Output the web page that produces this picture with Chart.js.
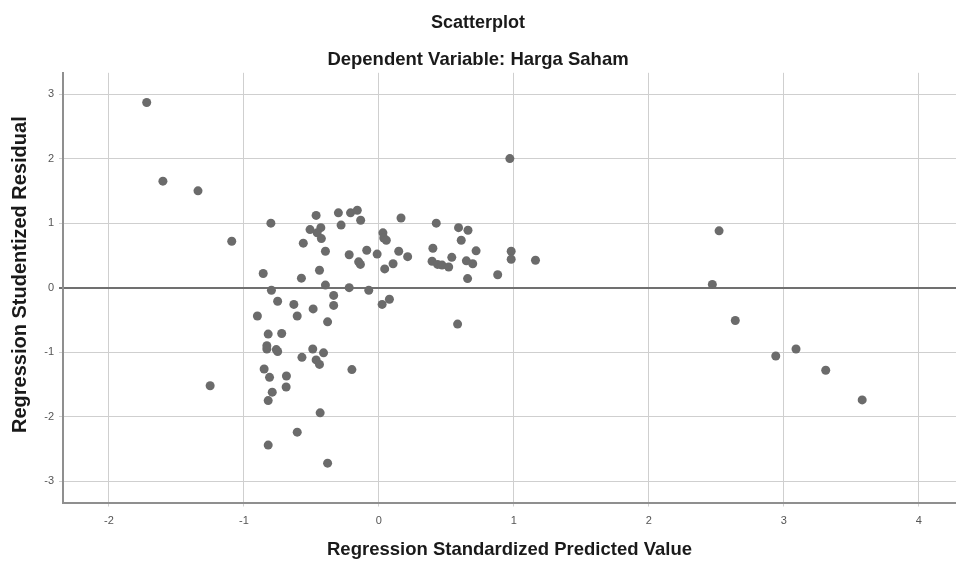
<!DOCTYPE html>
<html>
<head>
<meta charset="utf-8">
<script src="https://cdn.jsdelivr.net/npm/chart.js@4/dist/chart.umd.min.js"></script>
<style>
  html, body { margin: 0; padding: 0; background: #ffffff; }
  #grafico { display: block; }
</style>
</head>
<body>
<canvas id="grafico" width="956" height="563"></canvas>
<script>
// valores (x = predicted, y = residual)
const predito = [
  -1.72, -1.60, -1.34, -1.09, -1.25, -0.90, -0.80, -0.857, -0.465, -0.30,
  -0.21, -0.16, -0.28, -0.135, -0.51, -0.43, -0.457, -0.426, -0.56, -0.396,
  -0.22, -0.09, -0.15, -0.44, -0.574, -0.796, -0.396, -0.22, -0.075, -0.75,
  -0.63, -0.335, -0.487, -0.335, -0.605, -0.38, -0.82, -0.72, -0.83, -0.83,
  -0.76, -0.75, -0.57, -0.49, -0.41, -0.465, -0.44, -0.20, -0.85, -0.81,
  -0.685, -0.687, -0.79, -0.82, -0.435, -0.605, -0.82, -0.38, 0.97, 0.164,
  0.425, 0.03, 0.036, 0.055, 0.59, 0.66, 0.61, 0.72, 0.40, -0.013,
  0.147, 0.213, -0.137, 0.105, 0.043, 0.394, 0.435, 0.468, 0.517, 0.54,
  0.648, 0.695, 0.657, 0.88, 0.98, 0.98, 1.16, 0.078, 0.024, 0.583,
  2.52, 2.47, 2.64, 2.94, 3.09, 3.31, 3.58
];
const residuo = [
  2.87, 1.65, 1.50, 0.72, -1.52, -0.44, 1.00, 0.22, 1.12, 1.16,
  1.16, 1.20, 0.97, 1.045, 0.90, 0.93, 0.85, 0.76, 0.69, 0.565,
  0.51, 0.58, 0.40, 0.27, 0.147, -0.04, 0.04, 0.00, -0.04, -0.21,
  -0.26, -0.12, -0.33, -0.275, -0.44, -0.53, -0.72, -0.71, -0.90, -0.95,
  -0.96, -0.99, -1.08, -0.95, -1.01, -1.12, -1.19, -1.27, -1.26, -1.39,
  -1.37, -1.54, -1.62, -1.75, -1.94, -2.24, -2.44, -2.72, 2.00, 1.08,
  1.00, 0.85, 0.77, 0.735, 0.93, 0.89, 0.735, 0.57, 0.61, 0.52,
  0.565, 0.48, 0.36, 0.37, 0.29, 0.41, 0.36, 0.35, 0.32, 0.47,
  0.415, 0.37, 0.14, 0.20, 0.565, 0.44, 0.425, -0.18, -0.26, -0.565,
  0.88, 0.05, -0.51, -1.06, -0.95, -1.28, -1.74
];
const ticksX = [-2, -1, 0, 1, 2, 3, 4];
const ticksY = [-3, -2, -1, 0, 1, 2, 3];

const fonte = "'Liberation Sans', Arial, sans-serif";
const tituloY = "Regression Studentized Residual";

let pontos = [];
for (let i = 0; i < predito.length; i++) {
  pontos.push({ x: predito[i], y: residuo[i] });
}

// titulo do eixo y desenhado a mao, um pouco acima do centro como no original
const tituloEixoY = {
  id: "tituloEixoY",
  afterDraw(chart) {
    const ctx = chart.ctx;
    const area = chart.chartArea;
    ctx.save();
    ctx.translate(20, (area.top + area.bottom) / 2 - 13);
    ctx.rotate(-Math.PI / 2);
    ctx.font = "bold 20px " + fonte;
    ctx.fillStyle = "#1a1a1a";
    ctx.textAlign = "center";
    ctx.textBaseline = "middle";
    ctx.fillText(tituloY, 0, 0);
    ctx.restore();
  },
};

new Chart(document.getElementById("grafico").getContext("2d"), {
  type: "scatter",
  data: {
    datasets: [
      {
        data: pontos,
        pointRadius: 4.5,
        pointHoverRadius: 4.5,
        pointBorderWidth: 0,
        backgroundColor: "#6b6b6b",
        borderColor: "#6b6b6b",
      },
    ],
  },
  plugins: [tituloEixoY],
  options: {
    animation: false,
    responsive: false,
    devicePixelRatio: 1,
    layout: { autoPadding: false, padding: 0 }, // autoPadding deixava 5px sobrando na direita
    plugins: {
      legend: { display: false },
      tooltip: { enabled: false },
      title: {
        display: true,
        text: "Scatterplot",
        color: "#1a1a1a",
        font: { family: fonte, size: 18, weight: "bold" },
        padding: { top: 12, bottom: 0 },
      },
      subtitle: {
        display: true,
        text: "Dependent Variable: Harga Saham",
        color: "#1a1a1a",
        font: { family: fonte, size: 18.5, weight: "bold" },
        padding: { top: 15, bottom: 2 },
      },
    },
    scales: {
      x: {
        type: "linear",
        min: -2.34,
        max: 4.275,
        afterBuildTicks: (escala) => {
          escala.ticks = ticksX.map((v) => ({ value: v }));
        },
        afterFit: (escala) => {
          escala.height = 60.5;
          escala.paddingLeft = 0;
          escala.paddingRight = 0;
        },
        ticks: {
          color: "#555555",
          font: { family: fonte, size: 11 },
          padding: 8,
        },
        grid: {
          color: "#cfcfcf",
          lineWidth: 1,
          tickLength: 4,
        },
        border: { color: "#8f8f8f", width: 2 },
        title: {
          display: true,
          text: "Regression Standardized Predicted Value",
          color: "#1a1a1a",
          font: { family: fonte, size: 18.5, weight: "bold" },
          padding: { top: 0, bottom: 2 },
        },
      },
      y: {
        type: "linear",
        min: -3.33,
        max: 3.33,
        afterBuildTicks: (escala) => {
          escala.ticks = ticksY.map((v) => ({ value: v }));
        },
        afterFit: (escala) => {
          escala.width = 63;
        },
        ticks: {
          color: "#555555",
          font: { family: fonte, size: 11 },
          padding: 5,
        },
        grid: {
          // linha do zero mais escura
          color: (ctx) => (ctx.tick && ctx.tick.value === 0 ? "#707070" : "#cfcfcf"),
          lineWidth: (ctx) => (ctx.tick && ctx.tick.value === 0 ? 2 : 1),
          tickLength: 4,
        },
        border: { color: "#8f8f8f", width: 2 },
        title: { display: false },
      },
    },
  },
});
</script>
</body>
</html>
